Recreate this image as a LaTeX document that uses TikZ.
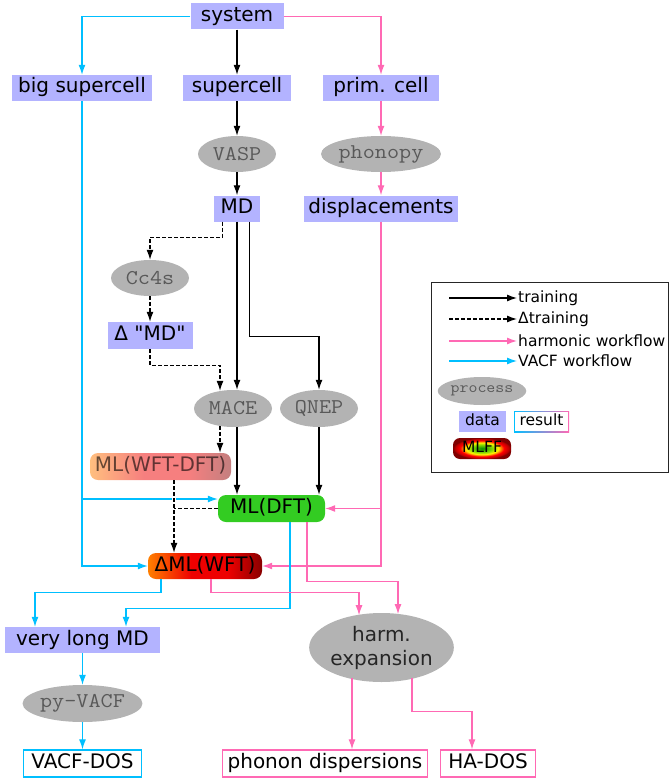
\documentclass[tikz,border=0pt]{standalone}
\usepackage{fontspec}
\setmainfont{DejaVu Sans}[Ligatures=TeXOff]
\setmonofont{Latin Modern Mono}[FakeStretch=1.12]
\usetikzlibrary{arrows.meta,shapes.geometric}
\definecolor{datac}{HTML}{B3B3FF}
\definecolor{procc}{HTML}{B3B3B3}
\definecolor{vacfc}{HTML}{00BFFF}
\definecolor{harmc}{HTML}{FF69B4}
\definecolor{mlgreen}{HTML}{33CC22}
\definecolor{mlorange}{HTML}{FF7F00}
\definecolor{mlred}{HTML}{EE0000}
\definecolor{mldark}{HTML}{880000}
\pgfdeclarehorizontalshading{mlwft}{100bp}{color(0bp)=(mlorange); color(25bp)=(mlorange); color(44bp)=(mlred); color(60bp)=(mlred); color(75bp)=(mldark); color(100bp)=(mldark)}
\pgfdeclareradialshading{mlff}{\pgfpoint{0bp}{0bp}}{color(0bp)=(green!55!black); color(9bp)=(green!40!yellow!85!black); color(14bp)=(yellow!90!orange); color(19bp)=(red); color(23bp)=(red!75!black); color(25bp)=(red!50!black); color(50bp)=(red!50!black)}
\begin{document}
\begin{tikzpicture}[x=1pt, y=-1pt,
  boxtxt/.style={inner sep=0pt, minimum height=26pt, text height=14.5pt, text depth=4.5pt, font=\fontsize{20}{24}\selectfont},
  data/.style={boxtxt, fill=datac},
  res/.style={boxtxt, fill=white, line width=1.3pt, minimum height=27pt},
  mlf/.style={boxtxt, rounded corners=8pt, minimum height=27pt},
  proc/.style={ellipse, fill=procc, inner sep=0pt, minimum height=36pt, text=black!65, font=\ttfamily\fontsize{21}{24}\selectfont},
  lgfont/.style={font=\fontsize{15.5}{18}\selectfont, text height=11pt, text depth=3.3pt, minimum height=21pt},
  lgtext/.style={anchor=west, inner sep=1pt, font=\fontsize{15.5}{18}\selectfont},
  trainline/.style={-{Latex[length=10pt,width=7pt]}, line width=1.2pt},
  dtrainline/.style={trainline, dash pattern=on 4pt off 2pt},
  harmline/.style={trainline, draw=harmc},
  vacfline/.style={trainline, draw=vacfc}]
\useasboundingbox (0,0) rectangle (670,778);
\node[data, minimum width=93pt] (system) at (237,16.5){system};
\node[data, minimum width=140pt] (bigsc) at (82,88){big supercell};
\node[data, minimum width=108pt] (supc) at (237,88){supercell};
\node[data, minimum width=116pt] (prim) at (381,88){prim. cell};
\node[proc, minimum width=78pt] (vasp) at (237,154){VASP};
\node[proc, minimum width=108pt] (phonopy) at (381,154){phonopy};
\node[data, minimum width=46pt] (md) at (237,208.5){MD};
\node[data, minimum width=154pt] (disp) at (381,208.5){displacements};
\node[proc, minimum width=78pt] (ccfs) at (150,278){Cc4s};
\node[data, minimum width=85pt, minimum height=27pt] (dmd) at (150,335.5){Δ "MD"};
\node[proc, minimum width=78pt, minimum height=37pt] (mace) at (233,408.5){MACE};
\node[proc, minimum width=78pt, minimum height=37pt] (qnep) at (319,408.5){QNEP};
\node[mlf, shade, shading=mlwft, fill opacity=0.5, text opacity=0.6, minimum width=141pt] (mldiff) at (160.5,466.5){ML(WFT-DFT)};
\node[mlf, fill=mlgreen, minimum width=107pt] (mldft) at (271.5,508.5){ML(DFT)};
\node[mlf, shade, shading=mlwft, minimum width=114pt, minimum height=26pt] (dmlwft) at (205,566){ΔML(WFT)};
\node[data, minimum width=155pt] (vlmd) at (82.5,640){very long MD};
\node[proc, minimum width=107pt, minimum height=37pt] (pyvacf) at (82.5,703.5){py-VACF};
\node[res, draw=vacfc, minimum width=118pt] (vacfdos) at (82.5,763.5){VACF-DOS};
\node[ellipse, fill=procc, inner sep=0pt, minimum width=123pt, minimum height=69pt, align=center, text=black!85, font=\fontsize{20}{24}\selectfont] (harmexp) at (381.5,647.5){harm.\\expansion};
\node[res, draw=harmc, minimum width=205pt] (phon) at (325,763.5){phonon dispersions};
\node[res, draw=harmc, minimum width=95pt] (hados) at (488,763.5){HA-DOS};
\draw[vacfline](system.west) -| (bigsc.north);
\draw[trainline](system.south) -- (supc.north);
\draw[harmline](system.east) -| (prim.north);
\draw[trainline](supc.south) -- (vasp.north);
\draw[trainline](vasp.south) -- (md.north);
\draw[harmline](prim.south) -- (phonopy.north);
\draw[harmline](phonopy.south) -- (disp.north);
\draw[dtrainline]([xshift=-14.5pt]md.south) -- ++(0,15.5) -| (ccfs.north);
\draw[dtrainline](ccfs.south) -- (dmd.north);
\draw[trainline](md.south) -- (md.south |- mace.north);
\draw[trainline]([xshift=12.5pt]md.south) -- ++(0,114.5) -| (qnep.north);
\draw[dtrainline](dmd.south) -- ++(0,16) -| ([xshift=-13pt,yshift=-1pt]mace.north);
\coordinate (macel) at ([xshift=-13pt,yshift=1pt]mace.south);
\draw[dtrainline](macel) -- (macel |- mldiff.north);
\draw[trainline](md.south |- mace.south) -- (md.south |- mldft.north);
\draw[trainline](qnep.south) -- (qnep.south |- mldft.north);
\coordinate (cybr) at ([yshift=9.5pt]mldft.west);
\coordinate (dsh) at ([xshift=13.5pt]mldiff.south);
\draw[vacfline](bigsc.south) |- (dmlwft.west);
\draw[vacfline](cybr -| bigsc.south) -- (cybr);
\draw[dtrainline, preaction={draw=white, line width=4pt, solid, -}](dsh) -- (dsh |- dmlwft.north);
\draw[dtrainline, -](mldft.west) -- (mldft.west -| dsh);
\draw[harmline](disp.south) |- (dmlwft.east);
\draw[harmline](disp.south |- mldft.east) -- (mldft.east);
\draw[vacfline]([xshift=-44pt]dmlwft.south) -- ++(0,13) -| ([xshift=-47.5pt]vlmd.north);
\draw[vacfline]([xshift=18.5pt]mldft.south) -- ++(0,86) -| ([xshift=43.5pt]vlmd.north);
\draw[harmline]([xshift=6pt]dmlwft.south) -- ++(0,13) -| ([xshift=-22.5pt,yshift=-2.4pt]harmexp.north);
\draw[harmline]([xshift=35.5pt]mldft.south) -- ++(0,59) -| ([xshift=16.5pt,yshift=-1.3pt]harmexp.north);
\draw[vacfline](vlmd.south) -- (pyvacf.north);
\draw[vacfline](pyvacf.south) -- (vacfdos.north);
\coordinate (hx1) at ([xshift=-29.5pt,yshift=4.2pt]harmexp.south);
\draw[harmline](hx1) -- (hx1 |- phon.north);
\draw[harmline]([xshift=30.5pt,yshift=4.5pt]harmexp.south) -- ++(0,33.5) -| ([xshift=-16pt]hados.north);
\draw[line width=1pt, draw=black!85] (431,282) rectangle (668,472);
\node[lgtext] (lgtrain) at (517,298){training};
\node[lgtext] (lgdtrain) at (517,319){Δtraining};
\node[lgtext] (lgharm) at (517,341){harmonic workflow};
\node[lgtext] (lgvacf) at (517,361){VACF workflow};
\coordinate (lgtrain0) at (449,298);
\coordinate (lgdtrain0) at (449,319);
\coordinate (lgharm0) at (449,341);
\coordinate (lgvacf0) at (449,361);
\draw[trainline](lgtrain0) -- (lgtrain.west);
\draw[dtrainline](lgdtrain0) -- (lgdtrain.west);
\draw[harmline](lgharm0) -- (lgharm.west);
\draw[vacfline](lgvacf0) -- (lgvacf.west);
\node[proc, minimum width=86pt, minimum height=28pt, font=\ttfamily\fontsize{15.5}{18}\selectfont] (lgproc) at (482,391){process};
\node[data, lgfont, minimum width=47pt] (lgdata) at (482.5,421.5){data};
\node[boxtxt, lgfont, left color=vacfc, right color=harmc, minimum width=55pt, path picture={\fill[white] ([shift={(1.3pt,1.3pt)}]path picture bounding box.south west) rectangle ([shift={(-1.3pt,-1.3pt)}]path picture bounding box.north east);}] (lgres) at (541.5,421.5){result};
\node[mlf, lgfont, shade, shading=mlff, rounded corners=7pt, minimum width=58pt] (lgmlff) at (482,448.5){MLFF};
\end{tikzpicture}
\end{document}
